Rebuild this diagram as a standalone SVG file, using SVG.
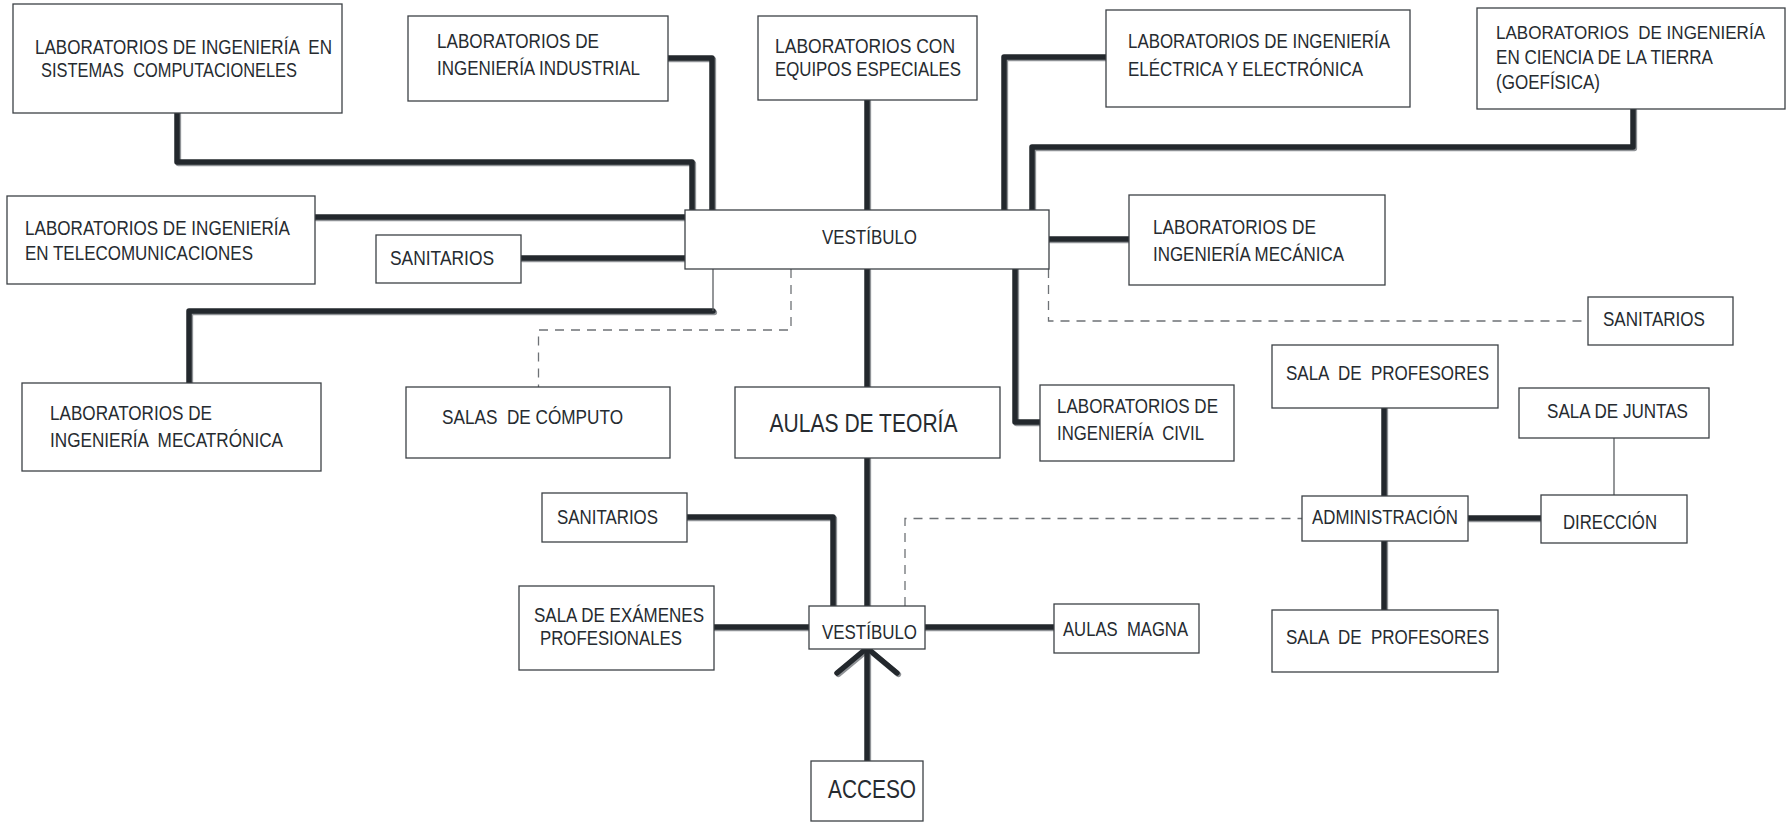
<svg xmlns="http://www.w3.org/2000/svg" width="1787" height="822" viewBox="0 0 1787 822">
  <style>
    .box{fill:#fff;stroke:#3c4146;stroke-width:1.3}
    .t{font-family:"Liberation Sans",Arial,sans-serif;font-size:20px;fill:#262b30;white-space:pre}
    .big{font-size:26px}
    .fit{font-size:17.8px}
    .wire{fill:none;stroke:#23282d;stroke-width:5.5;stroke-linecap:round;stroke-linejoin:round}
    .wire-edge{fill:none;stroke:#8f9296;stroke-width:5.5;stroke-linecap:round;stroke-linejoin:round}
    .thin{fill:none;stroke:#5a5e62;stroke-width:1.3}
    .dash{fill:none;stroke:#6e7276;stroke-width:1.3;stroke-dasharray:9 7}
  </style>
  <defs>
    <!-- heavy circulation routes, drawn twice (grey edge + dark core) -->
    <g id="wire-set">
      <path d="M177,113 V162 H692 V210"/>
      <path d="M668,58 H712 V210"/>
      <path d="M867,100 V210"/>
      <path d="M1106,57 H1004 V210"/>
      <path d="M1633,109 V147 H1032 V210"/>
      <path d="M315,217 H685"/>
      <path d="M521,258 H685"/>
      <path d="M1049,239 H1129"/>
      <path d="M189,383 V311 H713"/>
      <path d="M867,269 V387"/>
      <path d="M1015,269 V422 H1040"/>
      <path d="M867,458 V606"/>
      <path d="M687,517 H833 V606"/>
      <path d="M714,627 H809"/>
      <path d="M925,627 H1054"/>
      <path d="M867,761 V648"/>
      <path d="M837,673 L867,648 L897,673"/>
      <path d="M1384,408 V496"/>
      <path d="M1384,541 V610"/>
      <path d="M1468,518 H1541"/>
    </g>
  </defs>

  <g id="connectors">
    <use href="#wire-set" class="wire-edge" transform="translate(1.4,1.4)"/>
    <use href="#wire-set" class="wire"/>
    <path class="thin" d="M713,269 V311"/>
    <path class="thin" d="M1614,438 V495"/>
    <path class="dash" d="M791,269 V330 H538.5 V387"/>
    <path class="dash" d="M1048.5,269 V321 H1588"/>
    <path class="dash" d="M905,606 V518.5 H1302"/>
  </g>

  <g id="lab-sistemas">
    <rect class="box" x="13" y="4" width="329" height="109"/>
    <text class="t" x="35" y="53.5" textLength="297" lengthAdjust="spacingAndGlyphs">LABORATORIOS DE INGENIERÍA  EN</text>
    <text class="t" x="41" y="77" textLength="256" lengthAdjust="spacingAndGlyphs">SISTEMAS  COMPUTACIONELES</text>
  </g>
  <g id="lab-industrial">
    <rect class="box" x="408" y="16" width="260" height="85"/>
    <text class="t" x="437" y="47.5" textLength="162" lengthAdjust="spacingAndGlyphs">LABORATORIOS DE</text>
    <text class="t" x="437" y="74.5" textLength="203" lengthAdjust="spacingAndGlyphs">INGENIERÍA INDUSTRIAL</text>
  </g>
  <g id="lab-equipos">
    <rect class="box" x="758" y="16" width="219" height="84"/>
    <text class="t" x="775" y="52.5" textLength="180" lengthAdjust="spacingAndGlyphs">LABORATORIOS CON</text>
    <text class="t" x="775" y="75.5" textLength="186" lengthAdjust="spacingAndGlyphs">EQUIPOS ESPECIALES</text>
  </g>
  <g id="lab-electrica">
    <rect class="box" x="1106" y="10" width="304" height="97"/>
    <text class="t" x="1128" y="47.5" textLength="262" lengthAdjust="spacingAndGlyphs">LABORATORIOS DE INGENIERÍA</text>
    <text class="t" x="1128" y="75.5" textLength="235" lengthAdjust="spacingAndGlyphs">ELÉCTRICA Y ELECTRÓNICA</text>
  </g>
  <g id="lab-geofisica">
    <rect class="box" x="1477" y="8" width="308" height="101"/>
    <text class="t fit" x="1496" y="38.5" textLength="269" lengthAdjust="spacingAndGlyphs">LABORATORIOS  DE INGENIERÍA</text>
    <text class="t" x="1496" y="63.5" textLength="217" lengthAdjust="spacingAndGlyphs">EN CIENCIA DE LA TIERRA</text>
    <text class="t" x="1496" y="88.5" textLength="104" lengthAdjust="spacingAndGlyphs">(GOEFÍSICA)</text>
  </g>
  <g id="lab-telecom">
    <rect class="box" x="7" y="196" width="308" height="88"/>
    <text class="t" x="25" y="234.5" textLength="265" lengthAdjust="spacingAndGlyphs">LABORATORIOS DE INGENIERÍA</text>
    <text class="t" x="25" y="259.5" textLength="228" lengthAdjust="spacingAndGlyphs">EN TELECOMUNICACIONES</text>
  </g>
  <g id="sanitarios-1">
    <rect class="box" x="376" y="235" width="145" height="48"/>
    <text class="t" x="390" y="265" textLength="104" lengthAdjust="spacingAndGlyphs">SANITARIOS</text>
  </g>
  <g id="vestibulo-principal">
    <rect class="box" x="685" y="210" width="364" height="59"/>
    <text class="t" x="822" y="244" textLength="95" lengthAdjust="spacingAndGlyphs">VESTÍBULO</text>
  </g>
  <g id="lab-mecanica">
    <rect class="box" x="1129" y="195" width="256" height="90"/>
    <text class="t" x="1153" y="233.5" textLength="163" lengthAdjust="spacingAndGlyphs">LABORATORIOS DE</text>
    <text class="t" x="1153" y="260.5" textLength="191" lengthAdjust="spacingAndGlyphs">INGENIERÍA MECÁNICA</text>
  </g>
  <g id="lab-mecatronica">
    <rect class="box" x="22" y="383" width="299" height="88"/>
    <text class="t" x="50" y="420" textLength="162" lengthAdjust="spacingAndGlyphs">LABORATORIOS DE</text>
    <text class="t" x="50" y="447" textLength="233" lengthAdjust="spacingAndGlyphs">INGENIERÍA  MECATRÓNICA</text>
  </g>
  <g id="salas-computo">
    <rect class="box" x="406" y="387" width="264" height="71"/>
    <text class="t" x="442" y="424" textLength="181" lengthAdjust="spacingAndGlyphs">SALAS  DE CÓMPUTO</text>
  </g>
  <g id="aulas-teoria">
    <rect class="box" x="735" y="387" width="265" height="71"/>
    <text class="t big" x="769.5" y="432" textLength="188" lengthAdjust="spacingAndGlyphs">AULAS DE TEORÍA</text>
  </g>
  <g id="lab-civil">
    <rect class="box" x="1040" y="385" width="194" height="76"/>
    <text class="t" x="1057" y="413" textLength="161" lengthAdjust="spacingAndGlyphs">LABORATORIOS DE</text>
    <text class="t" x="1057" y="440" textLength="147" lengthAdjust="spacingAndGlyphs">INGENIERÍA  CIVIL</text>
  </g>
  <g id="sanitarios-2">
    <rect class="box" x="1588" y="297" width="145" height="48"/>
    <text class="t" x="1603" y="326" textLength="102" lengthAdjust="spacingAndGlyphs">SANITARIOS</text>
  </g>
  <g id="sala-profesores-1">
    <rect class="box" x="1272" y="345" width="226" height="63"/>
    <text class="t" x="1286" y="379.5" textLength="203" lengthAdjust="spacingAndGlyphs">SALA  DE  PROFESORES</text>
  </g>
  <g id="sala-juntas">
    <rect class="box" x="1519" y="388" width="190" height="50"/>
    <text class="t" x="1547" y="418" textLength="141" lengthAdjust="spacingAndGlyphs">SALA DE JUNTAS</text>
  </g>
  <g id="administracion">
    <rect class="box" x="1302" y="496" width="166" height="45"/>
    <text class="t" x="1312" y="523.5" textLength="146" lengthAdjust="spacingAndGlyphs">ADMINISTRACIÓN</text>
  </g>
  <g id="direccion">
    <rect class="box" x="1541" y="495" width="146" height="48"/>
    <text class="t" x="1563" y="528.5" textLength="94" lengthAdjust="spacingAndGlyphs">DIRECCIÓN</text>
  </g>
  <g id="sala-profesores-2">
    <rect class="box" x="1272" y="610" width="226" height="62"/>
    <text class="t" x="1286" y="644" textLength="203" lengthAdjust="spacingAndGlyphs">SALA  DE  PROFESORES</text>
  </g>
  <g id="sanitarios-3">
    <rect class="box" x="542" y="493" width="145" height="49"/>
    <text class="t" x="557" y="523.5" textLength="101" lengthAdjust="spacingAndGlyphs">SANITARIOS</text>
  </g>
  <g id="sala-examenes">
    <rect class="box" x="519" y="586" width="195" height="84"/>
    <text class="t" x="534" y="621.5" textLength="170" lengthAdjust="spacingAndGlyphs">SALA DE EXÁMENES</text>
    <text class="t" x="540" y="645" textLength="142" lengthAdjust="spacingAndGlyphs">PROFESIONALES</text>
  </g>
  <g id="vestibulo-acceso">
    <rect class="box" x="809" y="606" width="116" height="43"/>
    <text class="t" x="822" y="638.5" textLength="95" lengthAdjust="spacingAndGlyphs">VESTÍBULO</text>
  </g>
  <g id="aulas-magna">
    <rect class="box" x="1054" y="604" width="145" height="49"/>
    <text class="t" x="1063" y="636" textLength="125" lengthAdjust="spacingAndGlyphs">AULAS  MAGNA</text>
  </g>
  <g id="acceso">
    <rect class="box" x="811" y="761" width="112" height="60"/>
    <text class="t big" x="828" y="797.5" textLength="88" lengthAdjust="spacingAndGlyphs">ACCESO</text>
  </g>
</svg>
